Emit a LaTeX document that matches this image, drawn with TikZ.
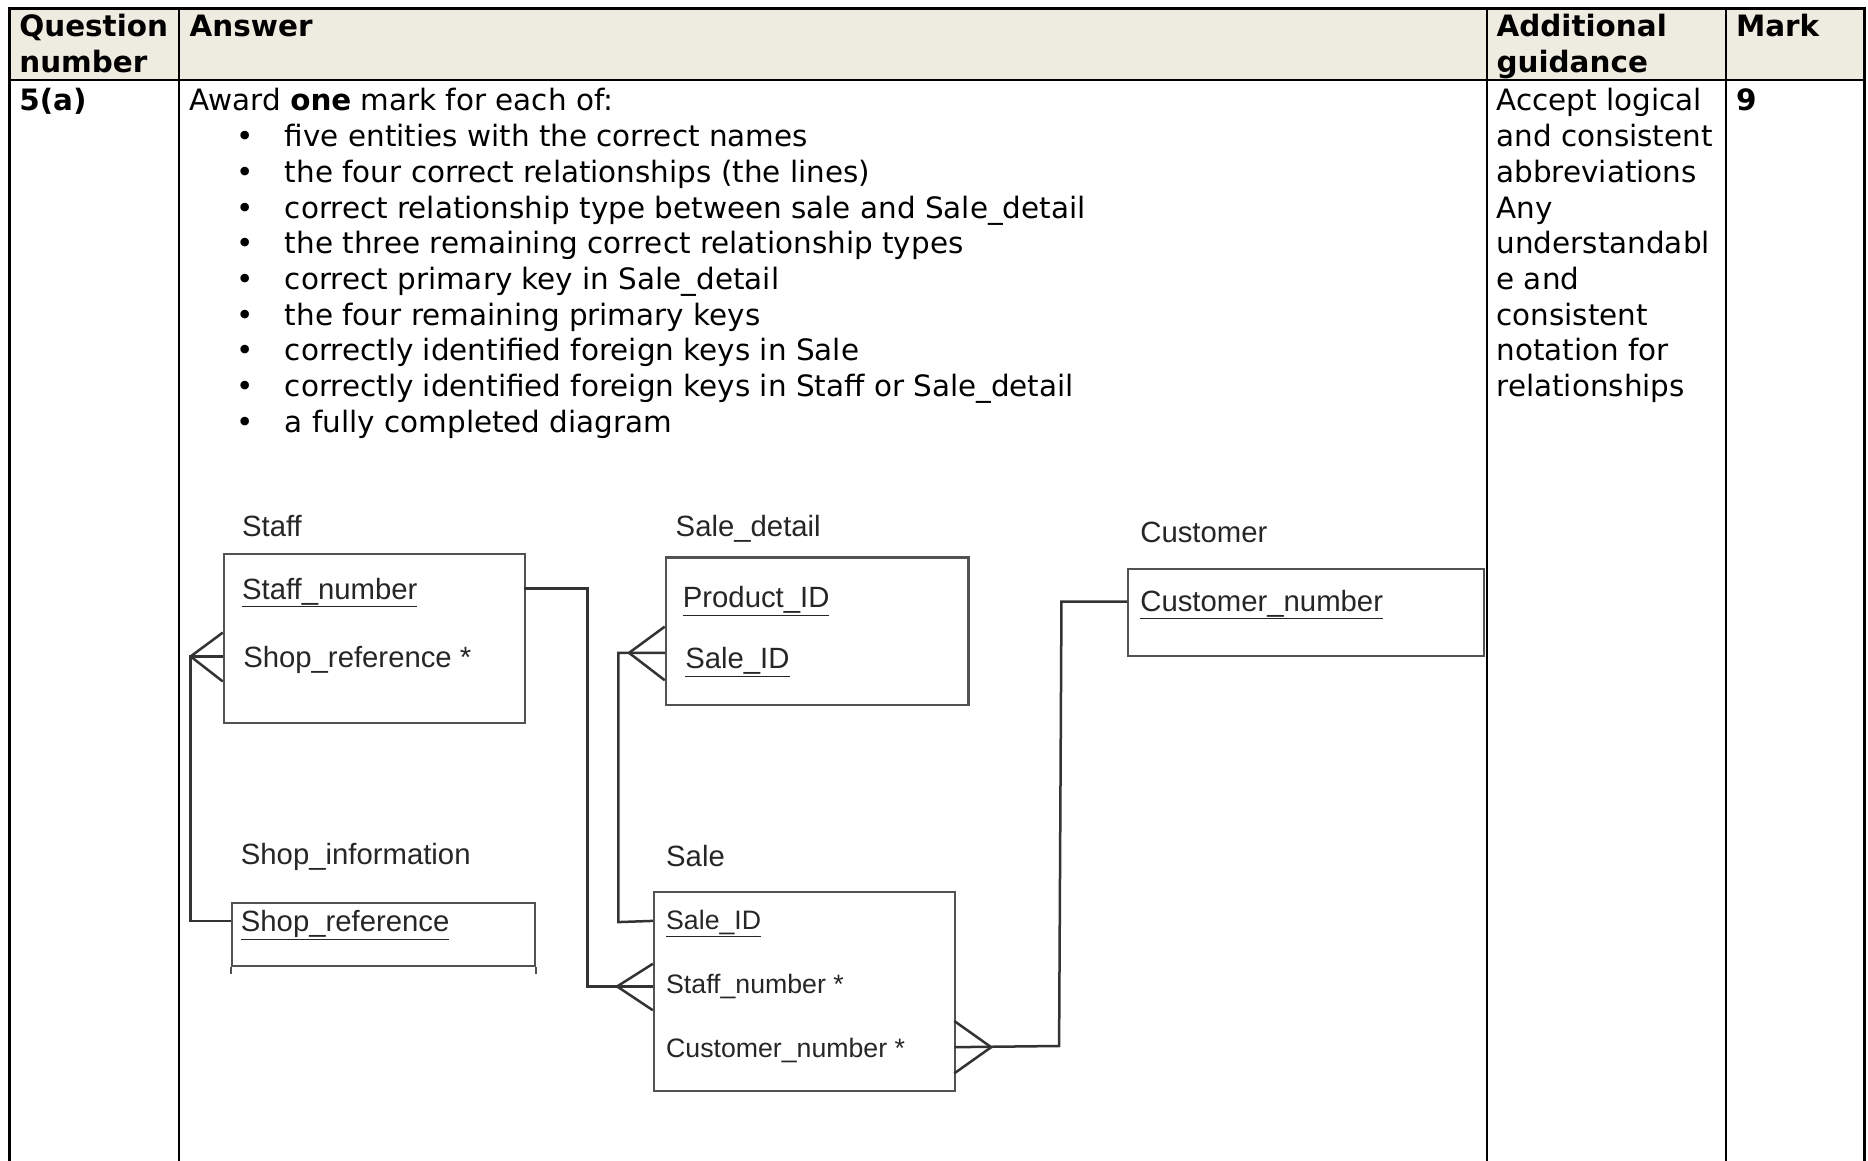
\documentclass[tikz,border=0pt]{standalone}
\usepackage{fontspec}
\setmainfont{DejaVu Sans}
\newfontfamily\erfont{Liberation Sans}
\usetikzlibrary{positioning}
\definecolor{headfill}{HTML}{EEEBE0}
\definecolor{erline}{HTML}{333333}

\begin{document}
\begin{tikzpicture}[x=1pt, y=-1pt,
  cell/.style = {anchor=base west, inner sep=0, font=\fontsize{24.7}{30}\selectfont},
  head/.style = {cell, font=\fontsize{24.7}{30}\selectfont\bfseries},
  dot/.style = {anchor=base, inner sep=0, font=\fontsize{24.7}{30}\selectfont},
  grid/.style = {line width=2pt},
  entity/.style = {draw=erline!85, line width=1.8pt, anchor=north west, inner sep=0},
  ertext/.style = {anchor=base west, inner sep=0, text=black!85, font=\erfont\fontsize{24.6}{30}\selectfont},
  salerow/.style = {ertext, font=\erfont\fontsize{22.4}{28}\selectfont},
  link/.style = {draw=erline, line width=2.1pt}]

\useasboundingbox (0,0) rectangle (1568,974);

% table
\fill[headfill] (8,7) rectangle (1565,67);
\draw[grid] (8,990) -- (8,7) -- (1565,7) -- (1565,990);
\draw[grid] (8,67) -- (1565,67);
\draw[grid] (150,7) -- (150,990);
\draw[grid] (1248,7) -- (1248,990);
\draw[grid] (1449,7) -- (1449,990);

\node[head](qhead1) at (16,31) {Question};
\node[head](qhead2) at (16,61) {number};
\node[head](ahead) at (159,31) {Answer};
\node[head](ghead1) at (1256,31) {Additional};
\node[head](ghead2) at (1256,61) {guidance};
\node[head](mhead) at (1457,31) {Mark};

\node[head](qnum) at (16,93) {5(a)};
\node[cell](award) at (159,93) {Award \textbf{one} mark for each of:};

\node[dot](b1) at (206,123) {•};
\node[dot](b2) at (206,153) {•};
\node[dot](b3) at (206,183) {•};
\node[dot](b4) at (206,213) {•};
\node[dot](b5) at (206,243) {•};
\node[dot](b6) at (206,273) {•};
\node[dot](b7) at (206,303) {•};
\node[dot](b8) at (206,333) {•};
\node[dot](b9) at (206,363) {•};
\node[cell](p1) at (239,123) {five entities with the correct names};
\node[cell](p2) at (239,153) {the four correct relationships (the lines)};
\node[cell](p3) at (239,183) {correct relationship type between sale and Sale\_detail};
\node[cell](p4) at (239,213) {the three remaining correct relationship types};
\node[cell](p5) at (239,243) {correct primary key in Sale\_detail};
\node[cell](p6) at (239,273) {the four remaining primary keys};
\node[cell](p7) at (239,303) {correctly identified foreign keys in Sale};
\node[cell](p8) at (239,333) {correctly identified foreign keys in Staff or Sale\_detail};
\node[cell](p9) at (239,363) {a fully completed diagram};

\node[cell](g1) at (1256,93) {Accept logical};
\node[cell](g2) at (1256,123) {and consistent};
\node[cell](g3) at (1256,153) {abbreviations};
\node[cell](g4) at (1256,183) {Any};
\node[cell](g5) at (1256,213) {understandabl};
\node[cell](g6) at (1256,243) {e and};
\node[cell](g7) at (1256,273) {consistent};
\node[cell](g8) at (1256,303) {notation for};
\node[cell](g9) at (1256,333) {relationships};

\node[head](mark) at (1457,93) {9};

% entities
\node[ertext](stafflbl) at (203,450) {Staff};
\node[entity, minimum width=253pt, minimum height=142pt](staff) at (187,464) {};
\node[ertext](staffnum) at (203,503) {\underline{Staff\_number}};
\node[ertext](staffshop) at (204,560) {Shop\_reference *};

\node[ertext](shoplbl) at (202,726) {Shop\_information};
\node[entity, minimum width=254pt, minimum height=53pt](shop) at (194,757) {};
\draw[erline!85, line width=1.8pt] (shop.south west) -- ++(0,6);
\draw[erline!85, line width=1.8pt] (shop.south east) -- ++(0,6);
\node[ertext](shopref) at (202,782) {\underline{Shop\_reference}};

\node[ertext](detaillbl) at (567,450) {Sale\_detail};
\node[entity, minimum width=254pt, minimum height=124pt](detail) at (558,467) {};
\node[ertext](detailprod) at (573,510) {\underline{Product\_ID}};
\node[ertext](detailsale) at (575,561) {\underline{Sale\_ID}};

\node[ertext](salelbl) at (559,727) {Sale};
\node[entity, minimum width=253pt, minimum height=167pt](sale) at (548,748) {};
\node[salerow](saleid) at (559,780) {\underline{Sale\_ID}};
\node[salerow](salestaff) at (559,834) {Staff\_number *};
\node[salerow](salecust) at (559,888) {Customer\_number *};

\node[ertext](custlbl) at (957,455) {Customer};
\node[entity, minimum width=299pt, minimum height=73pt](cust) at (946,477) {};
\node[ertext](custnum) at (957,513) {\underline{Customer\_number}};

% attach points
\coordinate (staffR) at (440,494);
\coordinate (staffL) at (187,551);
\coordinate (shopL) at (194,773);
\coordinate (detailL) at (558,548);
\coordinate (saleidL) at (548,773);
\coordinate (salestaffL) at (548,828);
\coordinate (salecustR) at (801,879);
\coordinate (custL) at (946,505);

% relationships
\draw[link] (staffR) -- (493,494) -- (493,828) -- (salestaffL);
\draw[link] (518,828) -- (548,809);
\draw[link] (518,828) -- (548,848);

\draw[link] (staffL) -- (160,551) -- (160,773) -- (shopL);
\draw[link] (160,551) -- (187,531);
\draw[link] (160,551) -- (187,572);

\draw[link] (detailL) -- (519,548) -- (519,774) -- (saleidL);
\draw[link] (528,548) -- (558,526);
\draw[link] (528,548) -- (558,571);

\draw[link] (salecustR) -- (889,878) -- (891,505) -- (custL);
\draw[link] (832,879) -- (801,857);
\draw[link] (832,879) -- (801,901);

\end{tikzpicture}
\end{document}
